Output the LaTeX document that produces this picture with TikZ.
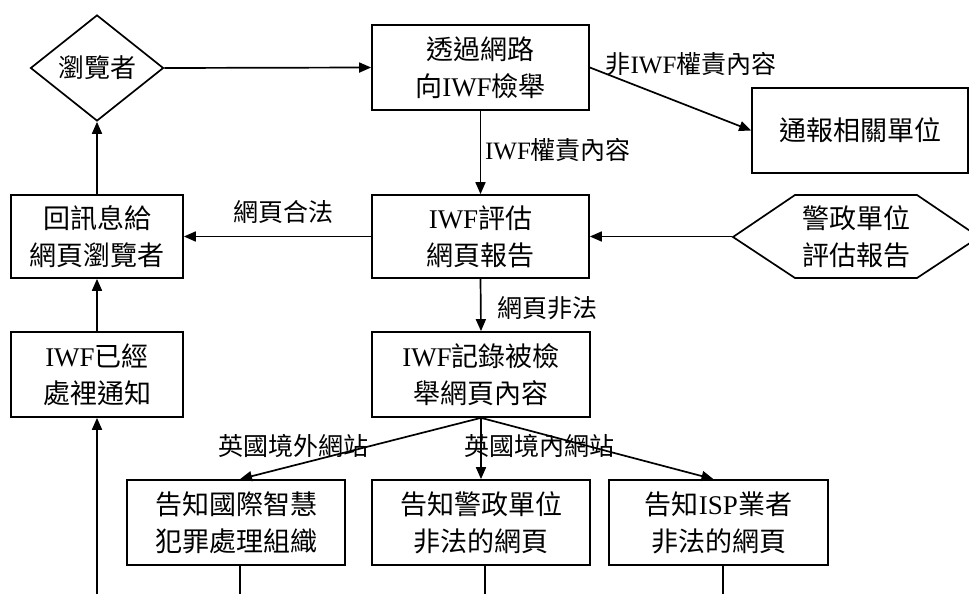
\documentclass[tikz,border=0pt]{standalone}
\usepackage{fontspec}
\setmainfont{Noto Sans CJK TC}
\newfontfamily\latnf{Liberation Serif}
\newcommand\latn[1]{{\latnf #1}}
\usetikzlibrary{arrows.meta,shapes.geometric}
\begin{document}
\begin{tikzpicture}[x=1pt,y=-1pt,
  line width=1.7pt,
  >={Triangle[length=12pt,width=10pt]},
  box/.style={draw,rectangle,inner sep=0pt,align=center,font=\fontsize{27}{37}\selectfont},
  lbl/.style={inner sep=0pt,font=\fontsize{25}{30}\selectfont}]
\useasboundingbox (0,0) rectangle (969,594);
\clip (0,0) rectangle (969,594);
% nodes
\node[draw,diamond,aspect=1.25,minimum width=133pt,minimum height=106pt,inner sep=0pt,font=\fontsize{26}{30}\selectfont] (dia) at (97,68) {瀏覽者};
\node[box,minimum width=217pt,minimum height=85pt] (t1) at (480.5,67.5) {透過網路\\向\latn{IWF}檢舉};
\node[box,minimum width=216pt,minimum height=85pt] (notify) at (860,130.5) {通報相關單位};
\node[box,minimum width=217pt,minimum height=83pt] (ev) at (480.5,236.5) {\latn{IWF}評估\\網頁報告};
\node[box,minimum width=172pt,minimum height=83pt] (back) at (97,236.5) {回訊息給\\網頁瀏覽者};
\draw (733,237) -- (795,195) -- (917,195) -- (979,237) -- (917,278) -- (795,278) -- cycle;
\node[inner sep=0pt,minimum width=246pt,minimum height=83pt,align=center,font=\fontsize{27}{37}\selectfont] (hex) at (856,236.5) {警政單位\\評估報告};
\node[box,minimum width=218pt,minimum height=85pt] (rec) at (481,374.5) {\latn{IWF}記錄被檢\\舉網頁內容};
\node[box,minimum width=172pt,minimum height=85pt] (done) at (97,374.5) {\latn{IWF}已經\\處裡通知};
\node[box,minimum width=218pt,minimum height=85pt] (int) at (236,522.5) {告知國際智慧\\犯罪處理組織};
\node[box,minimum width=218pt,minimum height=85pt] (pol) at (481,522.5) {告知警政單位\\非法的網頁};
\node[box,minimum width=219pt,minimum height=85pt] (isp) at (718.5,522.5) {告知\latn{ISP}業者\\非法的網頁};
% free ends
\coordinate (b0) at (97,600);
\coordinate (b1) at (240,600);
\coordinate (b2) at (485,600);
\coordinate (b3) at (723,600);
% connectors
\draw[->] (dia.east) -- (t1.west);
\draw[->] (t1.south) -- (ev.north);
\draw[->] (t1.east) -- (notify.west);
\draw[->] (ev.west) -- (back.east);
\draw[->] (hex.west) -- (ev.east);
\draw[->] (ev.south) -- (rec.north);
\draw[->] (back.north) -- (dia.south);
\draw[->] (done.north) -- (back.south);
\draw[->] (b0) -- (done.south);
\draw[->] (rec.south) -- (int.north -| b1);
\draw[->] (rec.south) -- (pol.north);
\draw[->] (rec.south) -- ([xshift=-5pt]isp.north);
\draw (int.south -| b1) -- (b1);
\draw (pol.south -| b2) -- (b2);
\draw (isp.south -| b3) -- (b3);
% labels
\node[lbl] (l1) at (558,150) {\latn{IWF}權責內容};
\node[lbl] (l2) at (691,64) {非\latn{IWF}權責內容};
\node[lbl] (l3) at (283,212) {網頁合法};
\node[lbl] (l4) at (547,308) {網頁非法};
\node[lbl] (l5) at (293,446) {英國境外網站};
\node[lbl] (l6) at (539,446) {英國境內網站};
\end{tikzpicture}
\end{document}
